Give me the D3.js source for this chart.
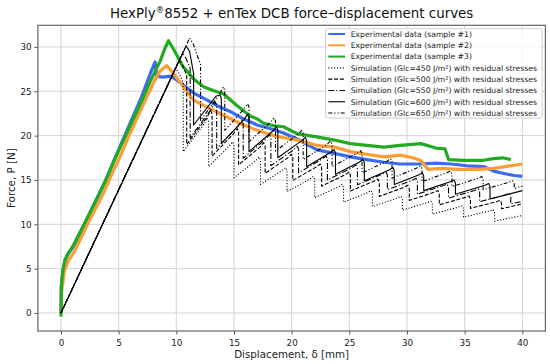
<!DOCTYPE html>
<html>
<head>
<meta charset="utf-8">
<script src="https://cdn.jsdelivr.net/npm/d3@7"></script>
<style>
  body { margin: 0; background: #fff; }
  text { font-family: "DejaVu Sans", sans-serif; }
</style>
</head>
<body>
<svg id="chart" width="550" height="364"></svg>
<script>
const xTicks = [0, 5, 10, 15, 20, 25, 30, 35, 40]
const yTicks = [0, 5, 10, 15, 20, 25, 30]

const legendLabels = [
  "Experimental data (sample #1)",
  "Experimental data (sample #2)",
  "Experimental data (sample #3)",
  "Simulation (Glc=450 J/m²) with residual stresses",
  "Simulation (Glc=500 J/m²) with residual stresses",
  "Simulation (Glc=550 J/m²) with residual stresses",
  "Simulation (Glc=600 J/m²) with residual stresses",
  "Simulation (Glc=650 J/m²) with residual stresses"
]

// experimental curves [displacement, force]
const sample1 = [[0,0],[0.03,2.9],[0.15,4.6],[0.35,5.9],[0.6,6.6],[1.07,7.5],[2.08,10.1],[2.95,12.4],[3.82,14.8],[4.83,17.9],[6.0,21.4],[7.0,24.4],[7.8,27.2],[8.16,28.3],[8.3,26.7],[8.8,26.6],[9.5,26.7],[10.0,26.3],[10.6,25.7],[11.5,24.8],[12.4,24.2],[13.5,23.4],[14.7,22.7],[15.8,21.9],[17.0,21.2],[18.1,20.8],[19.3,20.3],[20.5,19.6],[22.2,18.4],[23.7,18.0],[25.1,17.6],[26.5,17.3],[28.0,17.0],[29.4,16.8],[31.0,16.8],[32.5,16.9],[33.8,16.8],[35.2,16.6],[36.7,16.5],[37.5,16.0],[38.5,15.7],[39.3,15.5],[40.0,15.4]]
const sample2 = [[0,0],[0.05,2.4],[0.3,4.7],[0.6,5.8],[1.2,7.0],[2.37,10.2],[3.53,13.1],[4.5,15.9],[5.12,17.6],[6.0,20.3],[7.0,23.1],[8.0,25.9],[8.6,27.3],[9.17,27.9],[9.5,27.4],[10.0,26.6],[10.6,25.5],[11.5,24.0],[12.9,23.05],[14.1,22.3],[15.5,21.4],[17.0,20.6],[18.7,19.9],[20.5,19.5],[22.2,18.9],[23.7,18.7],[25.1,18.2],[26.5,17.9],[28.0,17.6],[29.4,17.8],[30.5,17.5],[31.2,17.2],[31.8,16.2],[33.0,16.3],[34.5,16.2],[36.0,16.2],[37.5,16.3],[39.0,16.6],[40.0,16.8]]
const sample3 = [[0,-0.4],[0.02,0.5],[0.03,3.0],[0.15,4.7],[0.35,6.0],[0.6,6.7],[1.07,7.6],[2.08,10.2],[2.95,12.5],[3.82,14.8],[4.83,17.8],[6.0,21.1],[7.0,23.9],[7.7,26.0],[8.6,28.4],[9.0,29.8],[9.32,30.7],[9.6,30.1],[10.04,29.1],[10.6,27.75],[11.5,26.4],[12.35,25.5],[13.2,25.1],[14.1,24.7],[15.25,23.4],[16.4,22.2],[17.0,21.9],[17.56,21.4],[18.5,21.1],[19.3,21.0],[20.5,20.2],[22.2,19.85],[23.7,19.5],[25.1,19.1],[26.5,18.9],[28.0,18.7],[29.4,18.9],[31.2,19.1],[32.5,18.6],[33.3,18.5],[33.6,17.3],[35.0,17.2],[36.5,17.2],[37.5,17.4],[38.3,17.5],[39.0,17.3]]

// simulations: first peak, crack-jump displacements, force before / after each jump, last point
const sim450 = {
  first: [9.95, 27.6],
  dropX: [10.6, 12.8, 15.0, 17.3, 19.6, 22.0, 24.5, 27.0, 29.6, 32.2, 34.9, 37.6],
  peakY: [26.0, 22.0, 19.3, 17.6, 16.4, 15.4, 14.5, 13.8, 13.15, 12.6, 12.1, 11.65],
  valleyY: [18.2, 16.5, 15.25, 14.5, 13.7, 13.0, 12.5, 12.0, 11.6, 11.15, 10.8, 10.35],
  end: [40, 11.0]
}
const sim500 = {
  first: [10.25, 28.5],
  dropX: [10.9, 13.1, 15.4, 17.7, 20.1, 22.6, 25.1, 27.6, 30.2, 32.8, 35.5, 38.2],
  peakY: [26.8, 22.8, 20.8, 19.2, 17.9, 16.8, 15.9, 15.1, 14.4, 13.8, 13.2, 12.7],
  valleyY: [19.0, 17.7, 16.7, 15.75, 14.95, 14.3, 13.75, 13.15, 12.7, 12.2, 11.8, 11.75],
  end: [40, 12.3]
}
const sim550 = {
  first: [10.55, 29.3],
  dropX: [11.2, 13.5, 15.8, 18.2, 20.6, 23.1, 25.7, 28.3, 30.9, 33.6, 36.3, 39.0],
  peakY: [27.6, 23.8, 21.7, 20.1, 18.8, 17.7, 16.7, 15.9, 15.2, 14.55, 14.0, 13.5],
  valleyY: [19.75, 18.55, 17.45, 16.6, 15.8, 15.0, 14.45, 13.9, 13.4, 12.95, 12.55, 12.3],
  end: [40, 12.6]
}
const sim600 = {
  first: [10.85, 30.1],
  dropX: [11.5, 13.9, 16.3, 18.8, 21.3, 23.8, 26.3, 28.9, 31.45, 34.2, 37.2],
  peakY: [27.0, 24.6, 22.4, 21.0, 19.8, 18.4, 17.3, 16.4, 15.8, 15.0, 14.6],
  valleyY: [21.2, 19.1, 18.2, 17.5, 16.5, 15.65, 14.9, 14.5, 13.8, 13.4, 12.85],
  end: [40, 13.8]
}
const sim650 = {
  first: [11.15, 31.0],
  dropX: [12.1, 14.2, 16.3, 18.6, 21.0, 23.5, 26.1, 28.7, 31.3, 33.9, 36.6, 39.3],
  peakY: [28.0, 25.5, 23.6, 22.0, 20.6, 19.4, 18.3, 17.4, 16.6, 16.0, 15.4, 14.9],
  valleyY: [21.7, 20.6, 19.3, 18.25, 17.3, 16.5, 15.8, 15.2, 14.8, 14.25, 13.9, 14.05],
  end: [40, 14.3]
}

const plot = {left: 37.9, right: 545.4, top: 25.3, bottom: 331}

const x = d3.scaleLinear().domain([-2, 42]).range([plot.left, plot.right])
const y = d3.scaleLinear().domain([-2.03, 32.44]).range([plot.bottom, plot.top])

const svg = d3.select("#chart")

svg.append("defs").append("clipPath").attr("id", "clip")
  .append("rect")
  .attr("x", plot.left).attr("y", plot.top)
  .attr("width", plot.right - plot.left).attr("height", plot.bottom - plot.top)

// grid
const grid = svg.append("g").attr("stroke", "#d3d3d3").attr("stroke-width", 1)
grid.selectAll(".gx").data(xTicks).join("line")
  .attr("x1", d => x(d)).attr("x2", d => x(d))
  .attr("y1", plot.top).attr("y2", plot.bottom)
grid.selectAll(".gy").data(yTicks).join("line")
  .attr("y1", d => y(d)).attr("y2", d => y(d))
  .attr("x1", plot.left).attr("x2", plot.right)

// axes
const xAxis = svg.append("g")
  .attr("transform", `translate(0,${plot.bottom})`)
  .call(d3.axisBottom(x).tickValues(xTicks).tickSize(3.5).tickPadding(5))
const yAxis = svg.append("g")
  .attr("transform", `translate(${plot.left},0)`)
  .call(d3.axisLeft(y).tickValues(yTicks).tickSize(3.5).tickPadding(2.8))

;[xAxis, yAxis].forEach(a => {
  a.select(".domain").remove()
  a.selectAll(".tick line").attr("stroke", "#555").attr("stroke-width", 1)
  a.selectAll(".tick text")
    .attr("fill", "#222")
    .style("font-family", "DejaVu Sans")
    .style("font-size", "8.8px")
})

const line = d3.line().x(d => x(d[0])).y(d => y(d[1]))

const simPoints = (s) => {
  const pts = [[0, 0]]
  const [fx, fy] = s.first
  pts.push([fx - 0.3, fy * (fx - 0.3) / fx])
  pts.push([fx, fy])
  pts.push([fx + 0.3, fy - 0.6])
  s.dropX.forEach((xd, i) => {
    if (i > 0) {
      const xp = s.dropX[i - 1]
      const vp = s.valleyY[i - 1]
      const xk = xd - 0.45
      pts.push([xk, Math.min(vp * xk / xp, s.peakY[i] - 0.15)])
      pts.push([xd - 0.12, s.peakY[i]])
      pts.push([xd, s.peakY[i] - 0.35])
    } else {
      pts.push([xd, s.peakY[i]])
    }
    pts.push([xd, s.valleyY[i]])
  })
  pts.push(s.end)
  return pts
}

const series = [
  {data: sample1, color: "#3a6cf0", width: 3.2, dash: null},
  {data: sample2, color: "#fb9d35", width: 3.2, dash: null},
  {data: sample3, color: "#22aa22", width: 3.2, dash: null},
  {data: simPoints(sim450), color: "#000", width: 1.1, dash: "1.1,1.8"},
  {data: simPoints(sim500), color: "#000", width: 1.1, dash: "4,1.8"},
  {data: simPoints(sim550), color: "#000", width: 1.1, dash: "6,2,1.2,2"},
  {data: simPoints(sim600), color: "#000", width: 1.1, dash: null},
  {data: simPoints(sim650), color: "#000", width: 1.1, dash: "4,2,1.2,2,1.2,2"}
]

svg.append("g").attr("clip-path", "url(#clip)")
  .selectAll("path")
  .data(series)
  .join("path")
  .attr("d", d => line(d.data))
  .attr("fill", "none")
  .attr("stroke", d => d.color)
  .attr("stroke-width", d => d.width)
  .attr("stroke-linejoin", "round")
  .attr("stroke-dasharray", d => d.dash)

// frame
svg.append("rect")
  .attr("x", plot.left).attr("y", plot.top)
  .attr("width", plot.right - plot.left).attr("height", plot.bottom - plot.top)
  .attr("fill", "none").attr("stroke", "#666").attr("stroke-width", 1.2)

// legend
const legend = svg.append("g").attr("transform", "translate(325.7,28.7)")
legend.append("rect")
  .attr("width", 216.5).attr("height", 89.4).attr("rx", 2)
  .attr("fill", "#fff").attr("fill-opacity", 0.8)
  .attr("stroke", "#cfcfcf").attr("stroke-width", 1)

const rows = legend.selectAll(".row")
  .data(series)
  .join("g")
  .attr("transform", (d, i) => `translate(0,${5.3 + i * 11.29})`)
rows.append("line")
  .attr("x1", 2.6).attr("x2", 19.3)
  .attr("stroke", d => d.color)
  .attr("stroke-width", d => d.width > 2 ? 2 : 1.1)
  .attr("stroke-dasharray", d => d.dash)
rows.append("text")
  .attr("x", 25).attr("y", 2.8)
  .attr("fill", "#222")
  .style("font-size", "7.7px")
  .text((d, i) => legendLabels[i])

// titles
const title = svg.append("text")
  .attr("x", (plot.left + plot.right) / 2).attr("y", 17.5)
  .attr("text-anchor", "middle")
  .attr("fill", "#111")
  .style("font-size", "13.4px")
title.append("tspan").text("HexPly")
title.append("tspan").attr("dy", -4.8).style("font-size", "8.5px").text("®")
title.append("tspan").attr("dy", 4.8).text("8552 + enTex DCB force–displacement curves")

svg.append("text")
  .attr("x", (plot.left + plot.right) / 2).attr("y", 357.8)
  .attr("text-anchor", "middle").attr("fill", "#222")
  .style("font-size", "10.3px")
  .text("Displacement, δ [mm]")

svg.append("text")
  .attr("transform", `translate(15.4,${(plot.top + plot.bottom) / 2}) rotate(-90)`)
  .attr("text-anchor", "middle").attr("fill", "#222")
  .style("font-size", "10.3px")
  .text("Force, P [N]")
</script>
</body>
</html>
